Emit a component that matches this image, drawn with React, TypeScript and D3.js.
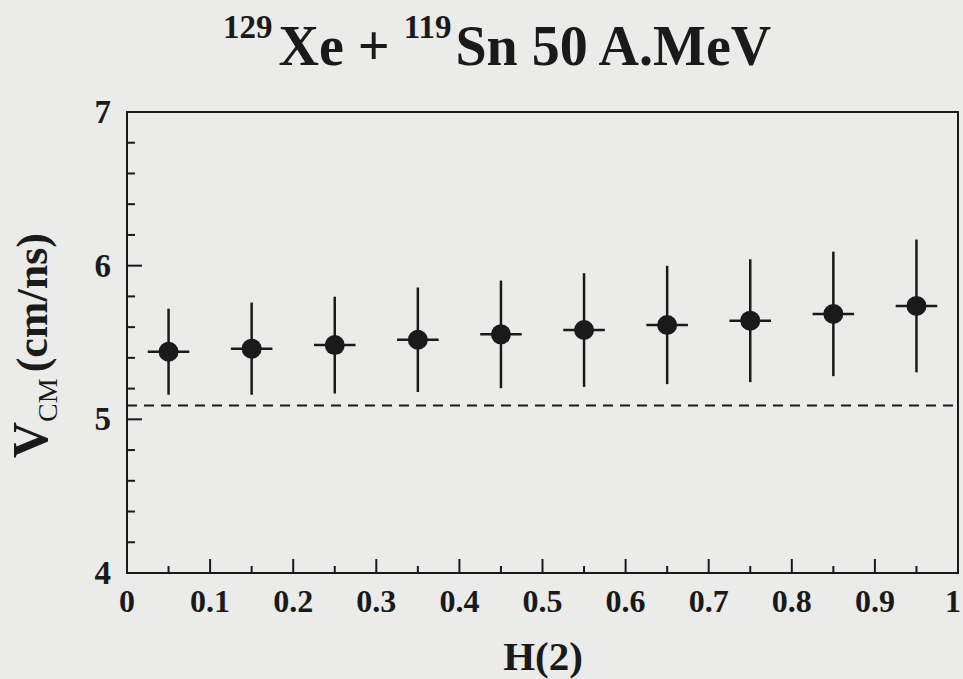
import React from "react";
import * as d3 from "d3";

const hValues = [0.05, 0.15, 0.25, 0.35, 0.45, 0.55, 0.65, 0.75, 0.85, 0.95];
const vcmValues = [5.44, 5.46, 5.483, 5.518, 5.553, 5.581, 5.614, 5.642, 5.686, 5.738];
const vcmErrors = [0.28, 0.3, 0.315, 0.34, 0.35, 0.37, 0.385, 0.4, 0.405, 0.432];
const hHalfWidth = [0.025, 0.025, 0.025, 0.025, 0.025, 0.025, 0.025, 0.025, 0.025, 0.025];
const referenceLevel = 5.09;
const xTickLabels = ["0", "0.1", "0.2", "0.3", "0.4", "0.5", "0.6", "0.7", "0.8", "0.9", "1"];
const yTickLabels = ["4", "5", "6", "7"];

const W = 963;
const H = 679;
const M = { left: 127, right: 958, top: 112, bottom: 573 };
const INK = "#1a1a1a";
const FONT = "'Liberation Serif', 'Times New Roman', serif";

export default function App() {
  const x = d3.scaleLinear().domain([0, 1]).range([M.left, M.right]);
  const y = d3.scaleLinear().domain([4, 7]).range([M.bottom, M.top]);

  const xMajor = d3.range(0, 11).map((i) => i / 10);
  const xMinor = d3.range(0, 10).map((i) => i / 10 + 0.05);
  const yMajor = [4, 5, 6, 7];
  const yMinor = d3.range(4, 7, 0.2).filter((v) => Math.abs(v - Math.round(v)) > 1e-6);

  const pts = hValues.map((h, i) => ({ h, v: vcmValues[i], e: vcmErrors[i], w: hHalfWidth[i] }));

  return (
    <div style={{ position: "fixed", left: 0, top: 0 }}>
      <svg width={W} height={H} style={{ display: "block", background: "#ebebea" }}>
        <rect x={0} y={0} width={W} height={H} fill="#ebebea" />
        {/* Title */}
        <text x={223} y={65} fontFamily={FONT} fontWeight="bold" fontSize={56} fill={INK}>
          <tspan fontSize={33} dy={-27}>129</tspan>
          <tspan dy={27} dx={6}>Xe + </tspan>
          <tspan fontSize={33} dy={-27}>119</tspan>
          <tspan dy={27} dx={4}>Sn 50 A.MeV</tspan>
        </text>

        {/* dashed reference line */}
        <line
          x1={x(0)}
          x2={x(1)}
          y1={y(referenceLevel)}
          y2={y(referenceLevel)}
          stroke={INK}
          strokeWidth={2}
          strokeDasharray="10,7"
        />

        {/* frame */}
        <rect
          x={M.left}
          y={M.top}
          width={M.right - M.left}
          height={M.bottom - M.top}
          fill="none"
          stroke={INK}
          strokeWidth={2}
        />

        {/* y ticks */}
        {yMajor.map((v) => (
          <line key={"ym" + v} x1={M.left} x2={M.left + 15} y1={y(v)} y2={y(v)} stroke={INK} strokeWidth={2} />
        ))}
        {yMinor.map((v, i) => (
          <line key={"yn" + i} x1={M.left} x2={M.left + 8} y1={y(v)} y2={y(v)} stroke={INK} strokeWidth={2} />
        ))}
        {yMajor.map((v, i) => (
          <text
            key={"yl" + v}
            x={M.left - 16}
            y={y(v) + 11}
            textAnchor="end"
            fontFamily={FONT}
            fontWeight="bold"
            fontSize={33}
            fill={INK}
          >
            {yTickLabels[i]}
          </text>
        ))}

        {/* x ticks */}
        {xMajor.map((v) => (
          <line key={"xm" + v} x1={x(v)} x2={x(v)} y1={M.bottom} y2={M.bottom - 14} stroke={INK} strokeWidth={2} />
        ))}
        {xMinor.map((v, i) => (
          <line key={"xn" + i} x1={x(v)} x2={x(v)} y1={M.bottom} y2={M.bottom - 7} stroke={INK} strokeWidth={2} />
        ))}
        {xMajor.map((v, i) => {
          const last = i === xMajor.length - 1;
          return (
            <text
              key={"xl" + v}
              x={last ? W - 2 : x(v)}
              y={612}
              textAnchor={last ? "end" : "middle"}
              fontFamily={FONT}
              fontWeight="bold"
              fontSize={32}
              fill={INK}
            >
              {xTickLabels[i]}
            </text>
          );
        })}

        {/* axis titles */}
        <text x={543} y={670} textAnchor="middle" fontFamily={FONT} fontWeight="bold" fontSize={41} fill={INK}>
          H(2)
        </text>
        <text transform={`translate(47, 458) rotate(-90)`} fontFamily={FONT} fontWeight="bold" fill={INK}>
          <tspan fontSize={50}>V</tspan>
          <tspan fontSize={28} fontWeight="normal" dy={10}>CM</tspan>
          <tspan fontSize={44} dy={-10} dx={6}>(cm/ns)</tspan>
        </text>

        {/* data points */}
        {pts.map((p, i) => (
          <g key={"p" + i}>
            <line x1={x(p.h)} x2={x(p.h)} y1={y(p.v - p.e)} y2={y(p.v + p.e)} stroke={INK} strokeWidth={2.5} />
            <line x1={x(p.h - p.w)} x2={x(p.h + p.w)} y1={y(p.v)} y2={y(p.v)} stroke={INK} strokeWidth={2.5} />
            <circle cx={x(p.h)} cy={y(p.v)} r={10} fill={INK} />
          </g>
        ))}
      </svg>
    </div>
  );
}
